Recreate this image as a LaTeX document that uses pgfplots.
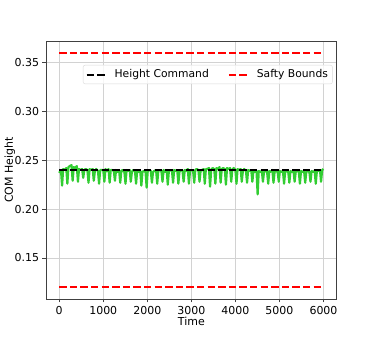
\documentclass[border=0pt]{standalone}
\usepackage{fontspec}
\setmainfont{DejaVu Sans}
\usepackage{pgfplots}
\pgfplotsset{compat=1.18}
\definecolor{limeg}{RGB}{50,205,50}
\begin{document}
\begin{tikzpicture}
\begin{axis}[
  at={(0,0)}, anchor=south west,
  scale only axis, width=290.7bp, height=258bp,
  xmin=-300, xmax=6300, ymin=0.108, ymax=0.372,
  xtick={0,1000,2000,3000,4000,5000,6000},
  ytick={0.15,0.20,0.25,0.30,0.35},
  yticklabel style={/pgf/number format/.cd,fixed,fixed zerofill,precision=2},
  scaled y ticks=false,
  /pgf/number format/assume math mode=true,
  xticklabel style={/pgf/number format/1000 sep={}},
  tick label style={font=\fontsize{11}{13}\selectfont, color=black},
  label style={font=\fontsize{11}{13}\selectfont},
  xlabel={Time}, ylabel={COM Height},
  xlabel style={yshift=3.5bp},
  ylabel style={yshift=-7.5bp},
  tick align=outside, tick pos=left,
  major tick length=3.5bp,
  grid=major, grid style={gray!35, line width=0.8bp},
  axis line style={line width=0.8bp, black!75},
  every tick/.style={black!75, line width=0.8bp},
  legend columns=2,
  legend style={at={(0.127,0.907)}, anchor=north west, draw=black!15, rounded corners=2bp,
    fill=white, fill opacity=0.8, text opacity=1, font=\fontsize{10.8}{12}\selectfont,
    /tikz/every even column/.append style={column sep=17bp},
    /tikz/every odd column/.append style={column sep=6bp}, inner sep=2.5bp},
  legend image code/.code={\draw[#1] (0bp,0bp) -- (19bp,0bp);},
]
\addplot[limeg, line width=2.2bp, line join=round, forget plot] coordinates {
(0,0.237) (40,0.240) (65,0.224) (90,0.241)
(120,0.240) (160,0.242) (185,0.226) (210,0.243)
(240,0.244) (280,0.245) (305,0.229) (330,0.243)
(360,0.242) (400,0.244) (425,0.228) (450,0.241)
(480,0.240) (520,0.241) (545,0.232) (570,0.240)
(600,0.241) (640,0.240) (665,0.227) (690,0.241)
(720,0.240) (760,0.241) (785,0.229) (810,0.239)
(840,0.241) (880,0.239) (905,0.226) (930,0.240)
(960,0.240) (1000,0.240) (1025,0.228) (1050,0.241)
(1080,0.239) (1120,0.241) (1145,0.227) (1170,0.240)
(1200,0.240) (1240,0.239) (1265,0.229) (1290,0.240)
(1320,0.238) (1360,0.240) (1385,0.227) (1410,0.239)
(1440,0.240) (1480,0.238) (1505,0.226) (1530,0.240)
(1560,0.239) (1600,0.240) (1625,0.228) (1650,0.238)
(1680,0.240) (1720,0.239) (1745,0.226) (1770,0.239)
(1800,0.238) (1840,0.239) (1865,0.224) (1890,0.238)
(1920,0.239) (1960,0.238) (1985,0.222) (2010,0.239)
(2040,0.240) (2080,0.239) (2105,0.227) (2130,0.238)
(2160,0.239) (2200,0.240) (2225,0.226) (2250,0.239)
(2280,0.240) (2320,0.239) (2345,0.228) (2370,0.240)
(2400,0.238) (2440,0.240) (2465,0.225) (2490,0.239)
(2520,0.240) (2560,0.239) (2585,0.227) (2610,0.240)
(2640,0.239) (2680,0.240) (2705,0.226) (2730,0.238)
(2760,0.240) (2800,0.239) (2825,0.228) (2850,0.240)
(2880,0.239) (2920,0.241) (2945,0.226) (2970,0.239)
(3000,0.240) (3040,0.239) (3065,0.227) (3090,0.240)
(3120,0.241) (3160,0.240) (3185,0.228) (3210,0.239)
(3240,0.240) (3280,0.241) (3305,0.226) (3330,0.241)
(3360,0.241) (3400,0.242) (3425,0.223) (3450,0.240)
(3480,0.242) (3520,0.241) (3545,0.226) (3570,0.242)
(3600,0.241) (3640,0.243) (3665,0.227) (3690,0.241)
(3720,0.242) (3760,0.241) (3785,0.225) (3810,0.242)
(3840,0.241) (3880,0.242) (3905,0.228) (3930,0.240)
(3960,0.242) (4000,0.240) (4025,0.226) (4050,0.241)
(4080,0.240) (4120,0.241) (4145,0.228) (4170,0.239)
(4200,0.241) (4240,0.239) (4265,0.227) (4290,0.240)
(4320,0.239) (4360,0.240) (4385,0.228) (4410,0.239)
(4440,0.238) (4480,0.239) (4505,0.215) (4530,0.239)
(4560,0.238) (4600,0.239) (4625,0.228) (4650,0.238)
(4680,0.239) (4720,0.238) (4745,0.226) (4770,0.239)
(4800,0.238) (4840,0.240) (4865,0.227) (4890,0.238)
(4920,0.239) (4960,0.238) (4985,0.228) (5010,0.239)
(5040,0.238) (5080,0.239) (5105,0.226) (5130,0.238)
(5160,0.239) (5200,0.238) (5225,0.227) (5250,0.239)
(5280,0.238) (5320,0.239) (5345,0.228) (5370,0.238)
(5400,0.239) (5440,0.238) (5465,0.226) (5490,0.239)
(5520,0.238) (5560,0.239) (5585,0.227) (5610,0.238)
(5640,0.239) (5680,0.238) (5705,0.228) (5730,0.239)
(5760,0.238) (5800,0.239) (5825,0.226) (5850,0.239)
(5880,0.239) (5920,0.240) (5945,0.228) (5970,0.240)
(6000,0.241)
};
\addplot[black, line width=2bp, dash pattern=on 7.4bp off 3.2bp] coordinates {(0,0.24) (6000,0.24)};
\addlegendentry{Height Command}
\addplot[red, line width=2bp, dash pattern=on 7.4bp off 3.2bp] coordinates {(0,0.36) (6000,0.36)};
\addlegendentry{Safty Bounds}
\addplot[red, line width=2bp, dash pattern=on 7.4bp off 3.2bp, forget plot] coordinates {(0,0.12) (6000,0.12)};
\end{axis}
\path[use as bounding box] (-46bp,-44bp) rectangle (328bp,299bp);
\end{tikzpicture}
\end{document}
